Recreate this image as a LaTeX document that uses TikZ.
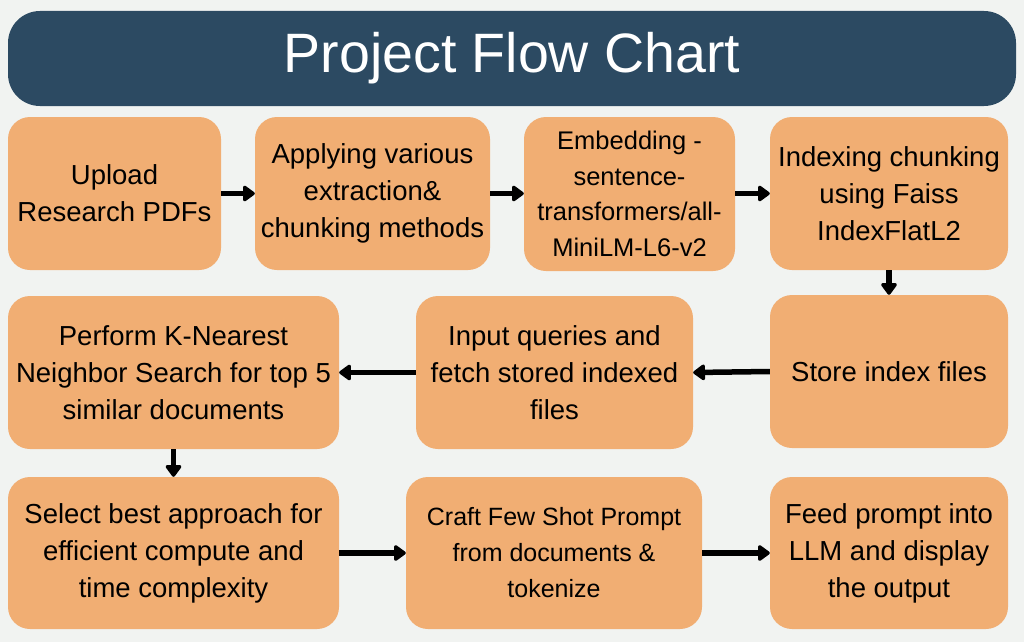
\documentclass[tikz,border=0pt]{standalone}
\usepackage{fontspec}
\setmainfont{Liberation Sans}
\usetikzlibrary{arrows.meta}
\definecolor{bgc}{HTML}{F1F3F1}
\definecolor{titlec}{HTML}{2C4A62}
\definecolor{boxc}{HTML}{F1AE73}
\tikzset{
  stepbox/.style={rectangle, rounded corners=22pt, fill=boxc, draw=none, inner sep=0pt, align=center, text=black,
    font={\fontsize{27.5}{37}\selectfont}},
  flowarrow/.style={line width=5.5pt, -{Triangle[round,length=13pt,width=18pt]}, black}
}
\begin{document}
\begin{tikzpicture}[x=1pt,y=-1pt]
\fill[bgc] (0,0) rectangle (1024,642);
\useasboundingbox (0,0) rectangle (1024,642);
\node[rectangle, rounded corners=32pt, fill=titlec, minimum width=1008pt, minimum height=95pt, inner sep=0pt,
  text=white, font={\fontsize{55.5}{60}\selectfont}] (title) at (512,58.5) {Project Flow Chart};

\node[stepbox, minimum width=213pt, minimum height=153pt] (b1) at (114.5,193.5) {Upload\\Research PDFs};
\node[stepbox, minimum width=235pt, minimum height=153pt] (b2) at (372.5,193.5) {Applying various\\extraction\&\\chunking methods};
\node[stepbox, minimum width=211pt, minimum height=154pt, font={\fontsize{25.5}{35.5}\selectfont}] (b3) at (629.5,194) {Embedding -\\sentence-\\transformers/all-\\MiniLM-L6-v2};
\node[stepbox, minimum width=238pt, minimum height=153pt] (b4) at (889,193.5) {Indexing chunking\\using Faiss\\IndexFlatL2};

\node[stepbox, minimum width=331pt, minimum height=153pt] (b5) at (173.5,372.5) {Perform K-Nearest\\Neighbor Search for top 5\\similar documents};
\node[stepbox, minimum width=277pt, minimum height=153pt] (b6) at (554.5,372.5) {Input queries and\\fetch stored indexed\\files};
\node[stepbox, minimum width=238pt, minimum height=153pt] (b7) at (889,371.5) {Store index files};

\node[stepbox, minimum width=331pt, minimum height=152pt] (b8) at (173.5,553) {Select best approach for\\efficient compute and\\time complexity};
\node[stepbox, minimum width=296pt, minimum height=152pt, font={\fontsize{25}{36}\selectfont}] (b9) at (554,553) {Craft Few Shot Prompt\\from documents \&\\tokenize};
\node[stepbox, minimum width=238pt, minimum height=152pt] (b10) at (889,553) {Feed prompt into\\LLM and display\\the output};

\draw[flowarrow] (b1.east) -- (b2.west);
\draw[flowarrow] (b2.east) -- (b3.west |- b2.east);
\draw[flowarrow] (b3.east |- b2.east) -- (b4.west);
\draw[flowarrow] (b4.south) -- (b7.north);
\draw[flowarrow] (b7.west) -- (b6.east);
\draw[flowarrow] (b6.west) -- (b5.east);
\draw[flowarrow] (b5.south) -- (b8.north);
\draw[flowarrow] (b8.east) -- (b9.west);
\draw[flowarrow] (b9.east) -- (b10.west);
\end{tikzpicture}
\end{document}
